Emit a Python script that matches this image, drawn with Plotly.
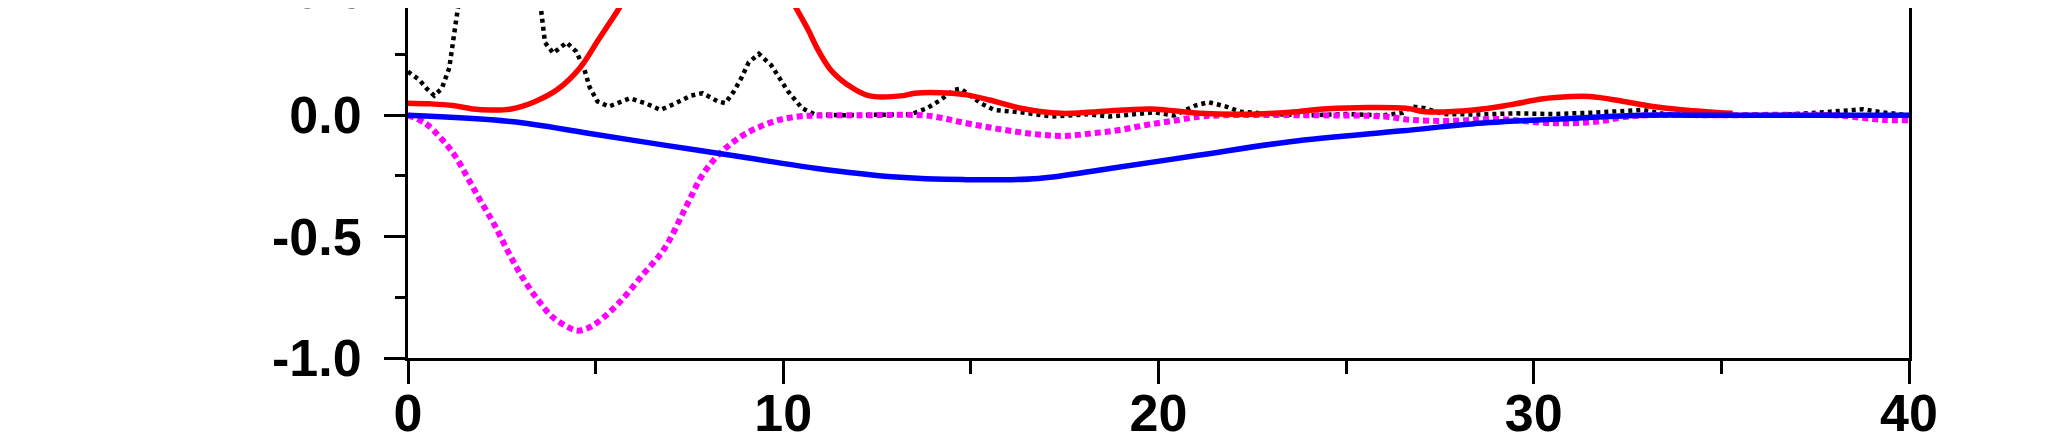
import plotly.graph_objects as go

# ---- data ----
black_x = [0.0, 0.3, 0.5, 0.7, 0.9, 1.1, 1.3, 1.6, 2.0, 2.5, 3.0, 3.4, 3.55, 3.65, 3.87, 4.05, 4.23, 4.48,
           4.69, 4.84, 5.05, 5.35, 5.6, 5.91, 6.32, 6.73, 7.14, 7.54, 7.85, 8.26, 8.46, 8.69, 8.88, 9.08,
           9.35, 9.68, 9.9, 10.12, 10.5, 10.85, 11.5, 12.3, 13.0, 13.4, 13.83, 14.19, 14.55, 14.73, 14.96,
           15.26, 15.62, 16.33, 17.17, 18.12, 18.7, 19.9, 20.4, 20.98, 21.33, 21.8, 22.17, 23.0, 24.0, 25.0,
           26.0, 26.5, 26.74, 27.1, 27.6, 28.5, 29.5, 30.5, 31.6, 32.3, 32.9, 33.5, 35.0, 36.5, 37.9, 38.4,
           38.76, 39.3, 40.0]
black_y = [0.18, 0.146, 0.11, 0.081, 0.11, 0.195, 0.41, 0.7, 0.9, 0.95, 0.85, 0.6, 0.43, 0.30, 0.256, 0.28,
           0.30, 0.263, 0.194, 0.116, 0.057, 0.036, 0.05, 0.07, 0.05, 0.022, 0.05, 0.081, 0.091, 0.057, 0.05,
           0.10, 0.153, 0.218, 0.253, 0.206, 0.153, 0.1, 0.029, 0.003, 0.0, 0.0, 0.0, 0.004, 0.029, 0.063,
           0.105, 0.109, 0.084, 0.05, 0.022, 0.012, -0.005, 0.004, -0.005, 0.012, -0.001, 0.04, 0.054, 0.036,
           0.015, 0.005, 0.0, 0.005, 0.0, 0.01, 0.036, 0.029, 0.005, 0.003, 0.008, 0.005, 0.011, 0.015, 0.022,
           0.005, 0.0, 0.0, 0.012, 0.02, 0.025, 0.012, 0.0]

magenta_x = [0, 0.46, 0.88, 1.24, 1.6, 1.95, 2.31, 2.67, 3.02, 3.44, 3.86, 4.27, 4.5, 4.75, 5.05, 5.64, 6.24,
             6.83, 7.4, 7.87, 8.36, 8.87, 9.38, 9.89, 10.4, 10.9, 12.0, 13.7, 14.2, 14.67, 15.38, 16.1, 16.8,
             17.5, 18.24, 18.95, 19.67, 20.38, 21.1, 21.7, 24.0, 26.0, 26.74, 27.8, 29.0, 30.5, 31.7, 32.3,
             33.0, 35.0, 38.0, 39.3, 40.0]
magenta_y = [0, -0.033, -0.095, -0.164, -0.26, -0.357, -0.453, -0.563, -0.66, -0.756, -0.832, -0.873, -0.887,
             -0.88, -0.853, -0.77, -0.66, -0.55, -0.38, -0.24, -0.15, -0.088, -0.047, -0.019, -0.005, -0.001,
             0.0, 0.0, -0.01, -0.026, -0.047, -0.065, -0.079, -0.085, -0.074, -0.061, -0.04, -0.023, -0.006,
             0.0, 0.0, -0.005, -0.019, -0.023, -0.015, -0.033, -0.026, -0.01, 0.0, 0.0, 0.0, -0.019, -0.02]

red_x = [0, 0.6, 1.2, 1.73, 2.2, 2.75, 3.36, 3.97, 4.58, 5.07, 5.4, 5.62, 6.2, 7.0, 8.0, 9.0, 9.8, 10.35,
         10.67, 10.9, 11.25, 11.72, 12.27, 13.2, 13.5, 14.5, 14.9, 15.5, 16.33, 17.4, 18.36, 19.8, 21.1, 22.3,
         23.7, 24.5, 26.6, 27.1, 28.4, 29.36, 30.2, 31.0, 31.5, 32.33, 33.17, 34.0, 35.3]
red_y = [0.05, 0.047, 0.04, 0.026, 0.022, 0.026, 0.055, 0.105, 0.195, 0.31, 0.387, 0.44, 0.6, 0.78, 0.85,
         0.78, 0.6, 0.44, 0.35, 0.277, 0.19, 0.125, 0.081, 0.081, 0.091, 0.091, 0.084, 0.063, 0.029, 0.008,
         0.015, 0.026, 0.008, 0.004, 0.015, 0.027, 0.029, 0.015, 0.022, 0.043, 0.067, 0.077, 0.077, 0.059,
         0.036, 0.022, 0.008]

blue_x = [0, 2.75, 4.8, 6.83, 8.87, 10.9, 12.9, 14.8, 16.8, 18.7, 21.1, 23.5, 26.5, 28.8, 31.1, 32.9, 35.0, 40.0]
blue_y = [0, -0.026, -0.074, -0.123, -0.171, -0.219, -0.253, -0.265, -0.26, -0.219, -0.164, -0.109, -0.064,
          -0.03, -0.012, 0.0, 0.0, 0.0]

x_ticks = [0, 10, 20, 30, 40]
y_ticks = [-1.0, -0.5, 0.0]
y_tick_text = ["-1.0", "-0.5", "0.0"]

FONT = dict(family="Liberation Sans, Arial, sans-serif", size=52, color="black", weight="bold")

fig = go.Figure()
fig.add_trace(go.Scatter(x=black_x, y=black_y, mode="lines",
                         line=dict(color="black", width=4.5, dash="4px,4px")))
fig.add_trace(go.Scatter(x=magenta_x, y=magenta_y, mode="lines", line_shape="spline",
                         line=dict(color="#ff00ff", width=6, dash="6px,4px")))
fig.add_trace(go.Scatter(x=red_x, y=red_y, mode="lines", line_shape="spline",
                         line=dict(color="#ff0000", width=5.5)))
fig.add_trace(go.Scatter(x=blue_x, y=blue_y, mode="lines", line_shape="spline",
                         line=dict(color="#0000ff", width=5.5)))

fig.update_layout(
    width=2071, height=442,
    margin=dict(l=400, r=170, t=0, b=92),
    paper_bgcolor="white", plot_bgcolor="white",
    showlegend=False,
    font=FONT,
)
fig.update_xaxes(range=[0, 40], tickvals=x_ticks, ticks="outside", ticklen=23, tickwidth=3,
                 tickcolor="black", showline=True, linecolor="black", linewidth=3,
                 showgrid=False, zeroline=False, tickfont=FONT, ticklabelstandoff=-15,
                 minor=dict(dtick=5, ticks="outside", ticklen=13, tickwidth=3, tickcolor="black"))
fig.update_yaxes(range=[-1.0, 0.442], tickvals=y_ticks, ticktext=y_tick_text, ticks="outside",
                 ticklen=21, tickwidth=3, tickcolor="black", showline=True, linecolor="black",
                 linewidth=3, mirror=True, showgrid=False, zeroline=False, tickfont=FONT,
                 ticklabelstandoff=12,
                 minor=dict(tickvals=[-0.75, -0.25, 0.25], ticks="outside", ticklen=10, tickwidth=3,
                            tickcolor="black"))
# partially visible top tick label (cut by the image edge)
fig.add_annotation(text="0.5", xref="paper", yref="paper", x=-0.0273, y=1.052,
                   xanchor="right", yanchor="middle", showarrow=False, font=FONT)

fig.write_html("out.html")
